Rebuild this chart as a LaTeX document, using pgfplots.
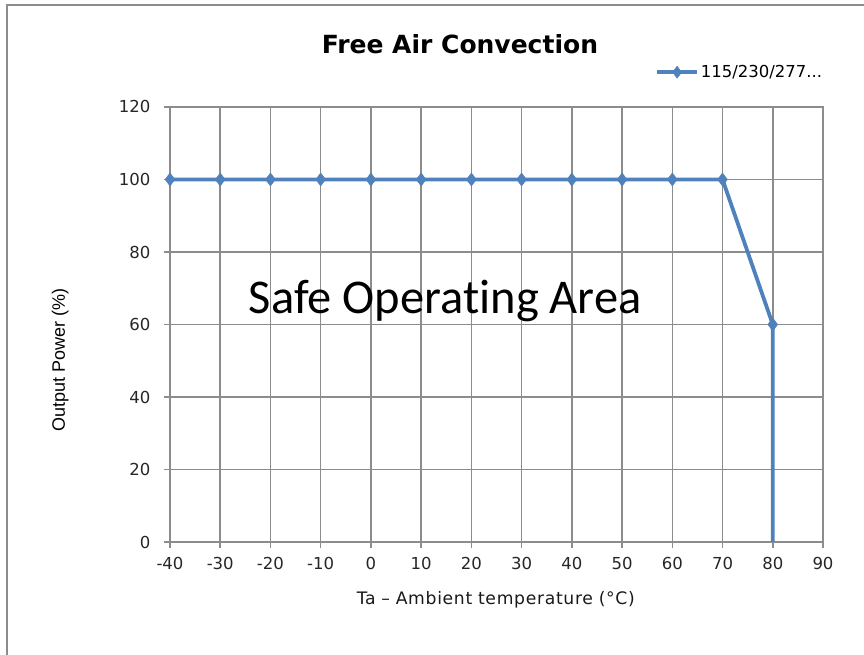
\documentclass[border=0pt]{standalone}
\usepackage{pgfplots}
\pgfplotsset{compat=1.18}
\usepackage{fontspec}
\setmainfont{DejaVu Sans}
\newfontfamily\carlito{Carlito}
\newfontfamily\arialf{Liberation Sans}
\newfontfamily\spaced[LetterSpace=4]{DejaVu Sans}
\definecolor{ser}{RGB}{79,129,189}
\definecolor{grd}{RGB}{140,140,140}
\begin{document}
\begin{tikzpicture}[x=1pt,y=1pt]
\useasboundingbox (-170,-113) rectangle (694,542);
\draw[grd, line width=2pt] (-163,-113) -- (-163,537) -- (694,537);
\begin{axis}[at={(0,0)}, anchor=south west, scale only axis,
  width=653pt, height=435pt,
  xmin=-40, xmax=90, ymin=0, ymax=120,
  xtick={-40,-30,...,90}, ytick={0,20,...,120},
  grid=major, grid style={grd, line width=1.6pt},
  axis line style={grd, line width=1.6pt},
  tick style={grd, line width=1.6pt},
  tick align=outside, major tick length=6pt,
  xtick pos=bottom, ytick pos=left,
  /pgf/number format/assume math mode=true,
  tick label style={font=\fontsize{16.5}{18}\selectfont, text=black!85},
  xticklabel style={yshift=-6pt},
  yticklabel style={xshift=-10pt},
  clip=false,
  title={\fontsize{25}{28}\selectfont\bfseries Free Air Convection},
  title style={at={(axis description cs:0.444,1.131)}, anchor=center},
  xlabel={\spaced Ta\,\,–\,\,Ambient\,\,temperature\,\,(°C)},
  xlabel style={font=\fontsize{17.2}{19}\selectfont, text=black!90, at={(axis description cs:0.499,-0.133)}, anchor=center},
  ylabel={\arialf Output Power (\%)},
  ylabel style={font=\fontsize{18}{20}\selectfont, at={(axis description cs:-0.168,0.418)}, anchor=center},
  legend style={at={(axis description cs:0.743,1.08)}, anchor=west, draw=none, fill=none,
    font=\fontsize{16.5}{18}\selectfont, inner sep=0pt, row sep=0pt},
  legend cell align=left,
  legend image code/.code={
    \draw[ser, line width=3.5pt] (0pt,0pt) -- (40pt,0pt);
    \draw[ser, fill=ser] plot[mark=diamond*, mark size=6pt] coordinates {(20pt,0pt)};
  },
]
\addplot[ser, line width=3.8pt, mark=diamond*, mark size=6.5pt, mark options={fill=ser, draw=ser, line width=0.5pt}, mark indices={1,...,13}]
coordinates {(-40,100) (-30,100) (-20,100) (-10,100) (0,100) (10,100) (20,100) (30,100) (40,100) (50,100) (60,100) (70,100) (80,60) (80,0)};
\addlegendentry{115/230/277...}
\node[font=\carlito\fontsize{48.5}{52}\selectfont, anchor=center] at (axis cs:14.8,66.5) {Safe Operat\kern0pt ing Area};
\end{axis}
\end{tikzpicture}
\end{document}
